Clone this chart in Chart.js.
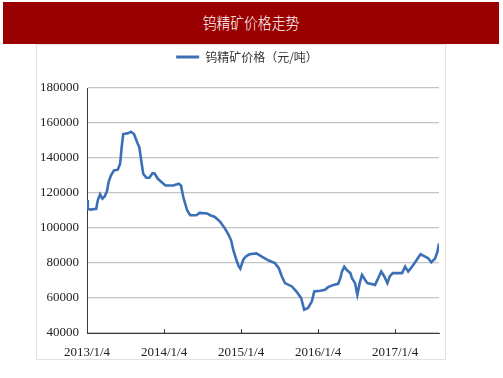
<!DOCTYPE html>
<html>
<head>
<meta charset="utf-8">
<script src="https://cdn.jsdelivr.net/npm/chart.js@4.4.0/dist/chart.umd.min.js"></script>
<style>
  html, body { margin: 0; padding: 0; background: #fff; }
  body { width: 503px; height: 378px; position: relative; overflow: hidden; }
  #titleBar {
    position: absolute; left: 3px; top: 2px; width: 496px; height: 42px;
    background: #9b0000;
  }
  #titleBar span {
    position: absolute; left: 0; right: 0; top: 10px; text-align: center;
    color: #fff; font: 300 16px "Noto Sans CJK SC", sans-serif; line-height: 20px;
    transform: scaleX(0.86);
  }
  #panel {
    position: absolute; left: 36px; top: 44px; width: 408px; height: 314px;
    border: 1px solid #e2e2e2;
  }
  #wrap { position: absolute; left: 37px; top: 45px; width: 408px; height: 314px; }
</style>
</head>
<body>
<div id="titleBar"><span>钨精矿价格走势</span></div>
<div id="panel"></div>
<div id="wrap"><canvas id="tungstenChart"></canvas></div>
<script>
// years since 2013/1/4
const yearPos = [
  0.00, 0.01, 0.04, 0.12, 0.14, 0.17, 0.20, 0.23, 0.26, 0.28,
  0.31, 0.35, 0.40, 0.43, 0.45, 0.47, 0.53, 0.57, 0.61, 0.66,
  0.68, 0.71, 0.73, 0.77, 0.81, 0.85, 0.88, 0.92, 0.97, 1.02,
  1.12, 1.19, 1.22, 1.25, 1.30, 1.34, 1.42, 1.46, 1.56, 1.60,
  1.66, 1.73, 1.79, 1.84, 1.87, 1.90, 1.94, 1.97, 1.99, 2.03,
  2.07, 2.11, 2.20, 2.27, 2.36, 2.44, 2.49, 2.53, 2.57, 2.66,
  2.72, 2.78, 2.82, 2.87, 2.92, 2.95, 3.03, 3.09, 3.13, 3.20,
  3.26, 3.29, 3.31, 3.34, 3.37, 3.42, 3.44, 3.48, 3.51, 3.54,
  3.57, 3.61, 3.64, 3.74, 3.78, 3.82, 3.86, 3.90, 3.93, 3.97,
  4.09, 4.13, 4.17, 4.22, 4.28, 4.33, 4.39, 4.43, 4.47, 4.52,
  4.55, 4.57
];
// 元/吨
const price = [
  116000, 111000, 110500, 111000, 115800, 119200, 116800, 118100, 121100, 126200,
  130000, 132900, 133300, 136700, 146100, 153700, 154100, 155000, 153700, 148000,
  146100, 136700, 131000, 128700, 128700, 131300, 131000, 128100, 126200, 124300,
  124300, 125300, 124300, 117700, 110100, 107300, 107300, 108600, 108300, 107300,
  106300, 103500, 99800, 96000, 93100, 87400, 81700, 78000, 76800, 82000,
  84000, 85000, 85500, 83600, 81400, 79900, 77000, 72300, 68500, 66600,
  63700, 60000, 53300, 54300, 58100, 63700, 64100, 64700, 66200, 67500,
  68100, 71300, 75100, 77900, 76100, 74200, 71300, 68500, 61900, 68500,
  73200, 70400, 68500, 67500, 71300, 75100, 72300, 68500, 72300, 74200,
  74200, 77900, 75100, 77900, 81700, 85000, 83600, 82700, 80400, 82700,
  86500, 91200
];
const yearTicks = [0, 1, 2, 3, 4];
const yearLabels = ["2013/1/4", "2014/1/4", "2015/1/4", "2016/1/4", "2017/1/4"];
const seriesName = "钨精矿价格（元/吨）";

const blue = "#3b70b6";
const axisDark = "#3a3a3a";
const gridGrey = "#c4c4c4";

// small inward tick marks on the x axis
const innerTicks = {
  id: "innerTicks",
  afterDraw(chart) {
    const x = chart.scales.x;
    const ctx = chart.ctx;
    ctx.save();
    ctx.strokeStyle = axisDark;
    ctx.lineWidth = 1;
    x.ticks.forEach((t) => {
      const px = Math.round(x.getPixelForValue(t.value)) + 0.5;
      ctx.beginPath();
      ctx.moveTo(px, x.top);
      ctx.lineTo(px, x.top - 4);
      ctx.stroke();
    });
    ctx.restore();
  },
};

// fixed legend height, legend nudged a bit right
const legendHeight = {
  id: "legendHeight",
  beforeInit(chart) {
    const fit = chart.legend.fit;
    chart.legend.fit = function () {
      fit.call(this);
      this.height = 43;
    };
  },
  afterLayout(chart) {
    chart.legend.left += 9;
    chart.legend.right += 9;
  },
};

const ctx = document.getElementById("tungstenChart").getContext("2d");
new Chart(ctx, {
  type: "line",
  data: {
    datasets: [
      {
        label: seriesName,
        data: yearPos.map((v, i) => ({ x: v, y: price[i] })),
        borderColor: blue,
        backgroundColor: blue,
        borderWidth: 2.6,
        pointRadius: 0,
        tension: 0,
      },
    ],
  },
  plugins: [innerTicks, legendHeight],
  options: {
    responsive: true,
    maintainAspectRatio: false,
    animation: false,
    layout: { padding: { top: 0, right: 6, left: 0, bottom: 0 } },
    plugins: {
      tooltip: { enabled: false },
      legend: {
        position: "top",
        labels: {
          boxWidth: 23,
          boxHeight: 3,
          padding: 6,
          color: "#333",
          font: { family: "'Noto Sans CJK SC'", size: 12 },
          generateLabels: (chart) =>
            Chart.defaults.plugins.legend.labels
              .generateLabels(chart)
              .map((l) => ({ ...l, lineWidth: 0 })),
        },
      },
    },
    scales: {
      x: {
        type: "linear",
        min: 0,
        max: 4.57,
        afterBuildTicks: (scale) => {
          scale.ticks = yearTicks.map((v) => ({ value: v }));
        },
        afterFit: (scale) => {
          scale.height = 26;
        },
        ticks: {
          autoSkip: false,
          maxRotation: 0,
          padding: 12,
          color: "#222",
          font: { family: "'Liberation Serif'", size: 13 },
          callback: (value, index) => yearLabels[index],
        },
        grid: { display: false, drawTicks: false },
        border: { color: axisDark, width: 1 },
      },
      y: {
        min: 40000,
        max: 180000,
        afterFit: (scale) => {
          scale.width = 50;
        },
        ticks: {
          stepSize: 20000,
          padding: 8,
          color: "#222",
          font: { family: "'Liberation Serif'", size: 13 },
          callback: (value) => String(value),
        },
        grid: { color: gridGrey, lineWidth: 1.2, drawTicks: false },
        border: { color: axisDark, width: 1 },
      },
    },
  },
});
</script>
</body>
</html>
